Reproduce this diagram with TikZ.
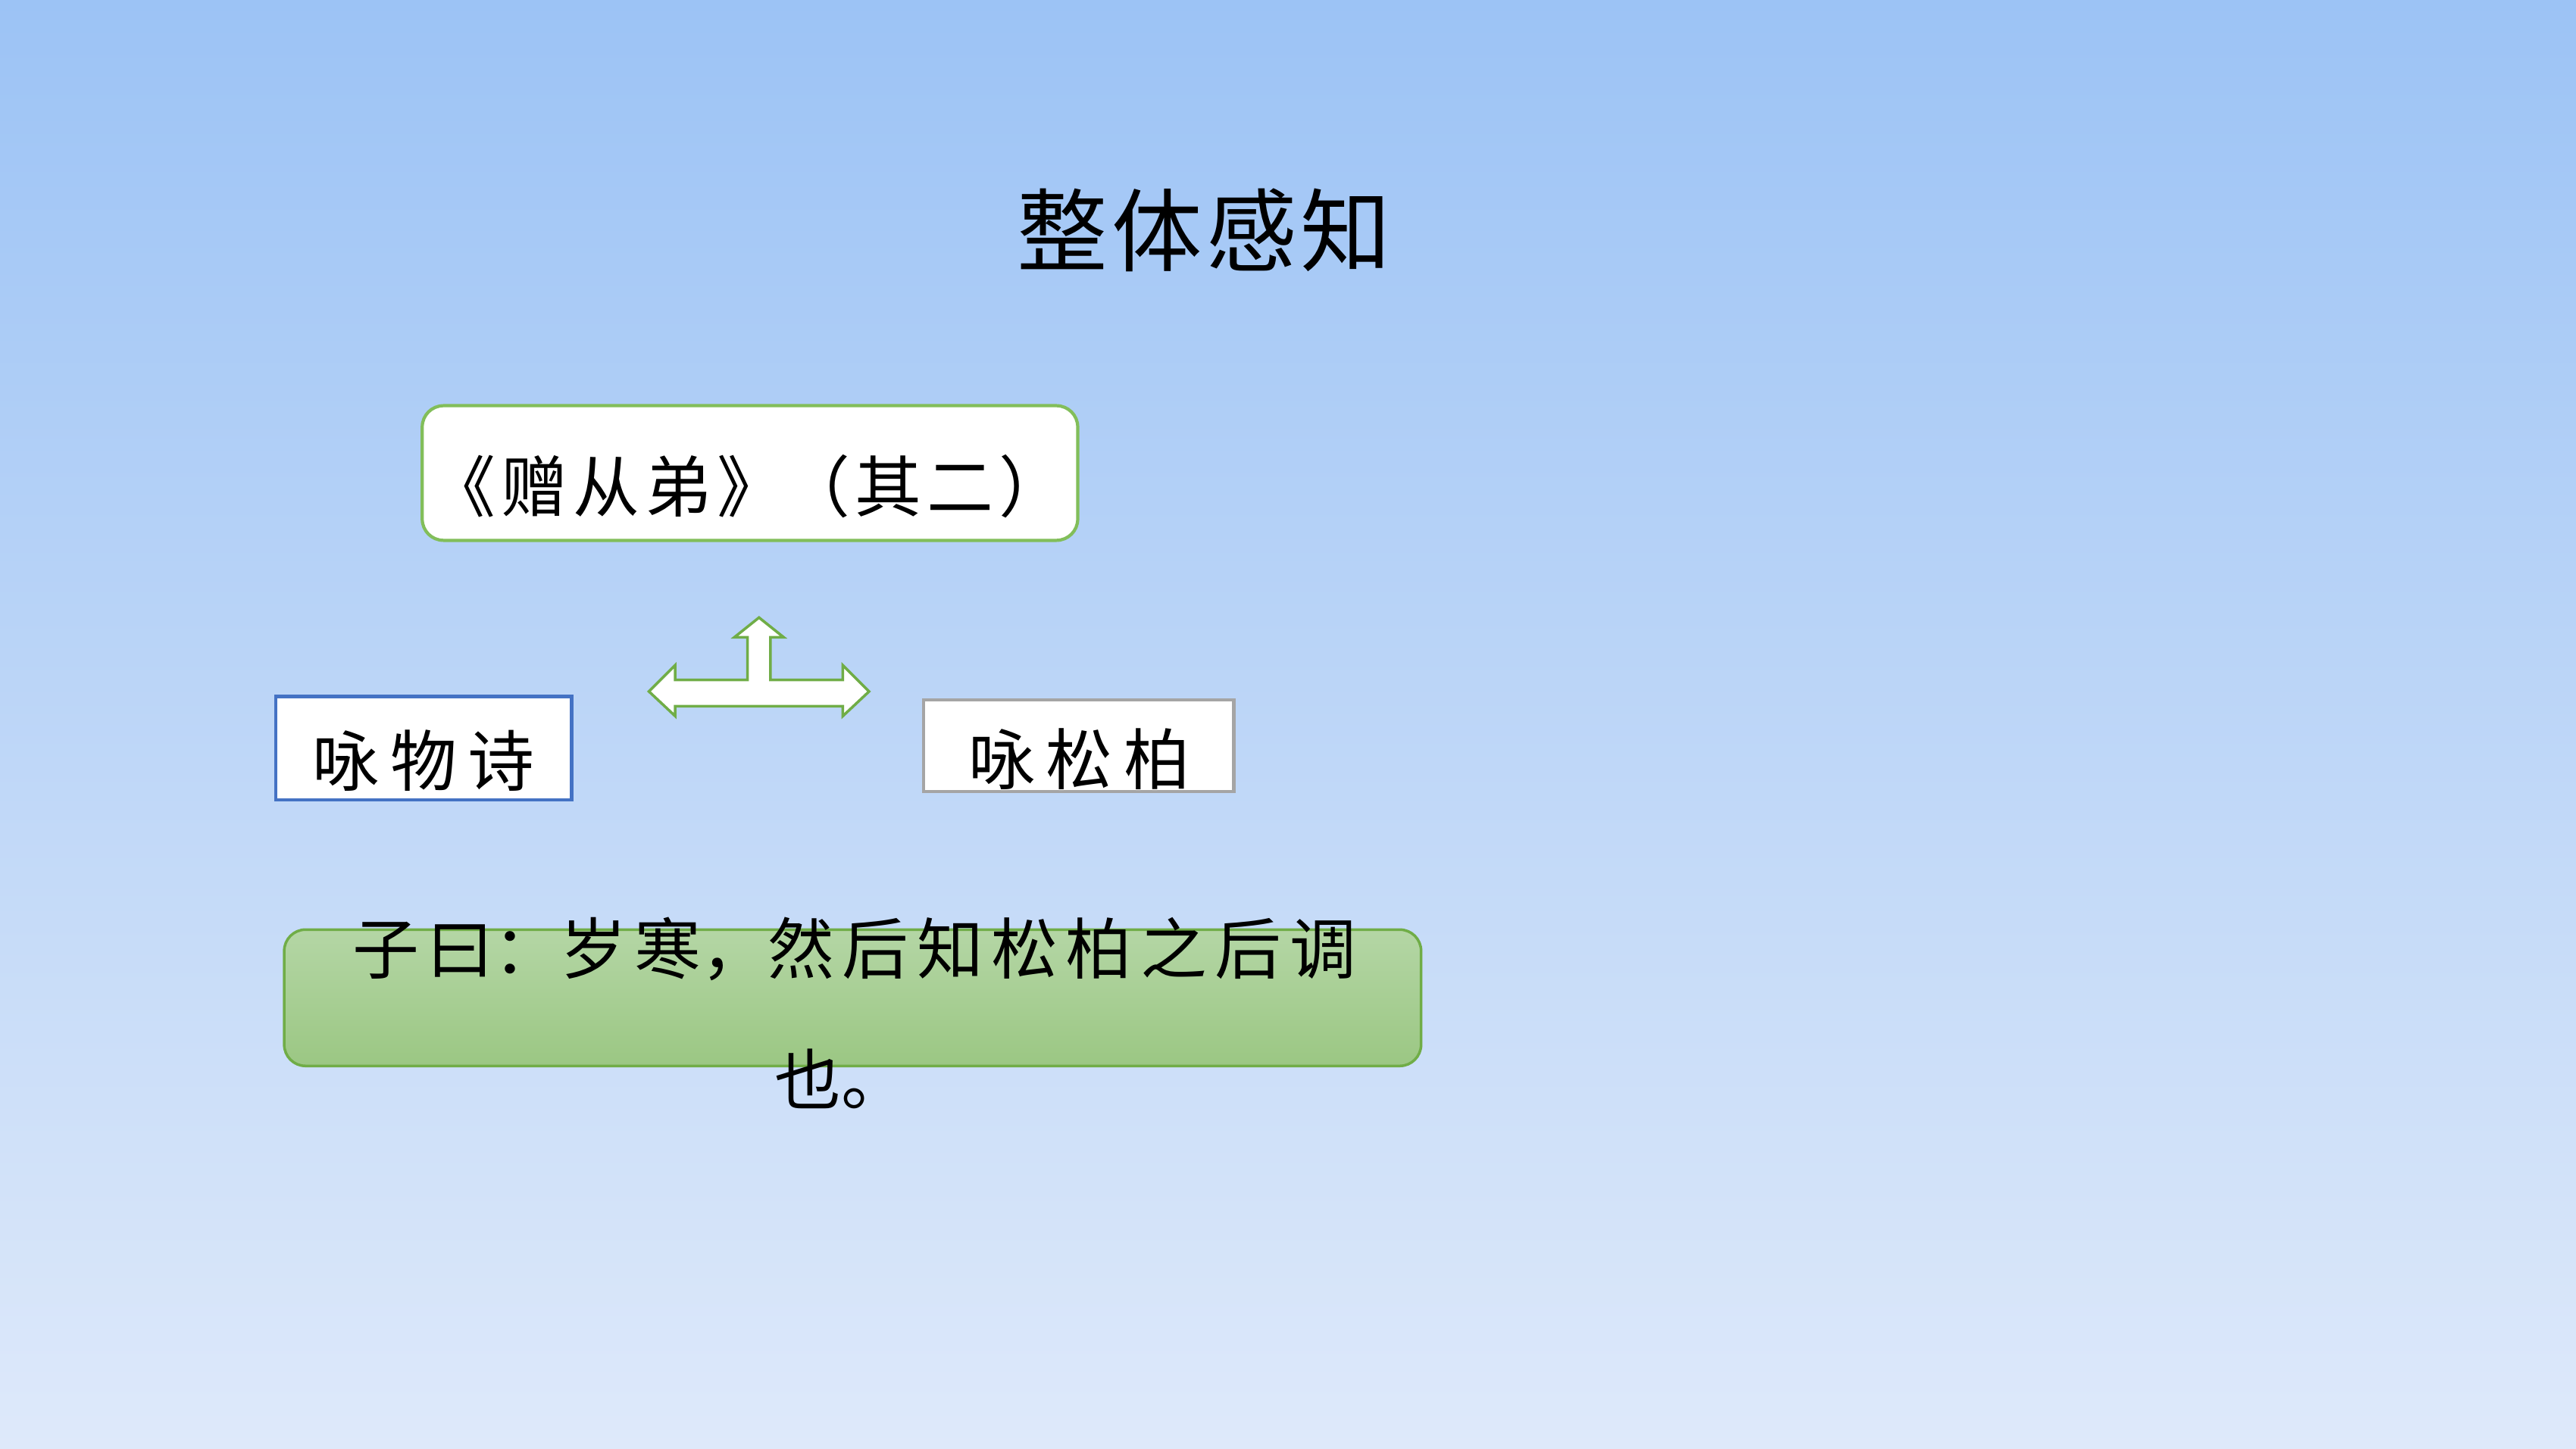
\documentclass[tikz,border=0pt]{standalone}
\usepackage{fontspec}
\setmainfont{Noto Sans CJK SC}
\begin{document}
\begin{tikzpicture}[x=0.021684cm,y=-0.021684cm,
  box/.style={draw,fill=white,line width=1.2pt},
  txt/.style={inner sep=0pt,text=black}]
\shade[top color={rgb,255:red,156;green,195;blue,245},bottom color={rgb,255:red,222;green,233;blue,250},draw=none] (0,0) rectangle (1568,882.2);
\node[txt,font=\fontsize{34}{40}\selectfont] (title) at (733,140) {整\kern1.5pt 体\kern1.5pt 感\kern1.5pt 知};
\draw[box,draw={rgb,255:red,130;green,190;blue,90},rounded corners=8pt] (257,247) rectangle (656,329);
\node[txt,font=\fontsize{25}{28}\selectfont] (poem) at (455,296) {《\kern2pt 赠\kern2pt 从\kern2pt 弟\kern2pt 》（\kern2pt 其\kern2pt 二\kern2pt ）};
\draw[box,draw={rgb,255:red,68;green,114;blue,196}] (168,424) rectangle (348,487);
\node[txt,font=\fontsize{25}{30}\selectfont] (ywsh) at (258,463) {咏\,物\,诗};
\draw[box,draw={rgb,255:red,165;green,165;blue,165}] (562,426) rectangle (751,482);
\node[txt,font=\fontsize{25}{30}\selectfont] (ysb) at (657,462) {咏\,松\,柏};
\draw[fill=white,draw={rgb,255:red,112;green,173;blue,71},line width=1pt,line join=miter]
 (395,421) -- (411,405) -- (411,414) -- (455,414) -- (455,388) -- (447,388) -- (462,376) -- (477,388) -- (469,388) -- (469,414) -- (513,414) -- (513,405) -- (529,421) -- (513,436) -- (513,430) -- (411,430) -- (411,436) -- cycle;
\shade[top color={rgb,255:red,180;green,214;blue,165},bottom color={rgb,255:red,155;green,199;blue,131},draw={rgb,255:red,112;green,173;blue,71},line width=1pt,rounded corners=8pt] (173,566) rectangle (865,649);
\node[txt,font=\fontsize{25}{30}\selectfont] (q1) at (520,578) {子\kern3pt 曰：岁\kern3pt 寒，然\kern3pt 后\kern3pt 知\kern3pt 松\kern3pt 柏\kern3pt 之\kern3pt 后\kern3pt 调};
\node[txt,font=\fontsize{25}{30}\selectfont] (q2) at (512,657) {也。};
\end{tikzpicture}
\end{document}
